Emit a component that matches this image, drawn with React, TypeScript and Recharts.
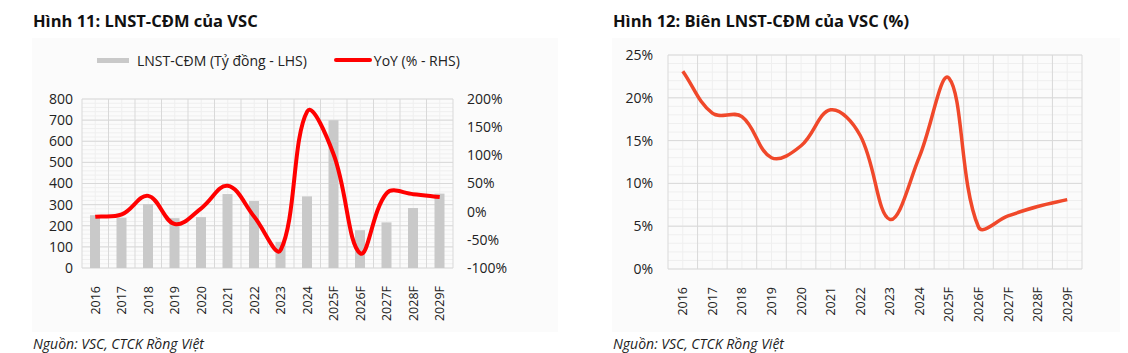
import React from 'react';
import { ComposedChart, LineChart, Bar, Line, XAxis, YAxis, CartesianGrid } from 'recharts';

const years = ['2016', '2017', '2018', '2019', '2020', '2021', '2022', '2023', '2024', '2025F', '2026F', '2027F', '2028F', '2029F'];
const profit = [250, 238, 303, 236, 241, 350, 317, 124, 339, 699, 179, 216, 284, 352];
const yoy = [-9, -5, 28, -22, 6, 46, -9, -68, 178, 101, -74, 33, 31, 26];
const margin = [23.1, 18.2, 17.8, 13.0, 14.4, 18.6, 15.6, 5.8, 13.1, 22.3, 4.9, 6.2, 7.3, 8.1];

const leftTicks = [0, 100, 200, 300, 400, 500, 600, 700, 800];
const leftMinor = Array.from({ length: 41 }, (_, i) => i * 20);
const rightTicks = [-100, -50, 0, 50, 100, 150, 200];
const marginTicks = [0, 5, 10, 15, 20, 25];
const marginMinor = Array.from({ length: 26 }, (_, i) => i);

const data1 = years.map((y, i) => ({ year: y, profit: profit[i], yoy: yoy[i] }));
const data2 = years.map((y, i) => ({ year: y, margin: margin[i] }));

const FONT = '"Open Sans", sans-serif';
const MAJOR = '#d9d9d9';
const MINOR = '#efefef';

// Distance-weighted smoothing, close to Excel's smoothed line
const smoothCurve = (context: any) => {
  let pts: number[][] = [];
  const T = 0.38;
  return {
    areaStart() {},
    areaEnd() {},
    lineStart() { pts = []; },
    lineEnd() {
      if (!pts.length) return;
      const n = pts.length;
      const dist = (a: number[], b: number[]) => Math.hypot(b[0] - a[0], b[1] - a[1]) || 1e-6;
      const outC: number[][] = [];
      const inC: number[][] = [];
      for (let i = 0; i < n; i++) {
        const p = pts[i];
        const prev = pts[i - 1] || p;
        const next = pts[i + 1] || p;
        const d0 = i > 0 ? dist(prev, p) : 0;
        const d1 = i < n - 1 ? dist(p, next) : 0;
        const tx = next[0] - prev[0];
        const ty = next[1] - prev[1];
        const s = d0 + d1 || 1;
        outC.push([p[0] + (tx * d1 / s) * T, p[1] + (ty * d1 / s) * T]);
        inC.push([p[0] - (tx * d0 / s) * T, p[1] - (ty * d0 / s) * T]);
      }
      context.moveTo(pts[0][0], pts[0][1]);
      for (let i = 0; i < n - 1; i++) {
        context.bezierCurveTo(outC[i][0], outC[i][1], inC[i + 1][0], inC[i + 1][1], pts[i + 1][0], pts[i + 1][1]);
      }
    },
    point(x: number, y: number) { pts.push([x, y]); },
  };
};

const boundaries = (props: any) => {
  const { offset } = props;
  const n = years.length;
  return Array.from({ length: n + 1 }, (_, i) => offset.left + (i * offset.width) / n);
};
const centers = (props: any) => {
  const { offset } = props;
  const n = years.length;
  return Array.from({ length: n }, (_, i) => offset.left + ((i + 0.5) * offset.width) / n);
};

const RotTick = (props: any) => {
  const { x, y, payload } = props;
  return (
    <text
      x={0}
      y={0}
      transform={`translate(${x + 4.5},${y + 10}) rotate(-90)`}
      textAnchor="end"
      fontFamily={FONT}
      fontSize={12.5}
      fill="#222"
    >
      {payload.value}
    </text>
  );
};

const tickStyle = { fontFamily: FONT, fontSize: 14, fill: '#222' };

export default function App() {
  return (
    <div style={{ position: 'absolute', left: 0, top: 0, width: 1128, height: 353, background: '#fff', fontFamily: FONT }}>
      <div style={{ position: 'absolute', left: 33, top: 10, fontSize: 16.5, fontWeight: 700, color: '#111', lineHeight: '22px', whiteSpace: 'nowrap' }}>
        Hình 11: LNST-CĐM của VSC
      </div>
      <div style={{ position: 'absolute', left: 613, top: 10, fontSize: 16.5, fontWeight: 700, color: '#111', lineHeight: '22px', whiteSpace: 'nowrap' }}>
        Hình 12: Biên LNST-CĐM của VSC (%)
      </div>

      <div style={{ position: 'absolute', left: 32, top: 38, width: 526, height: 294, background: '#fbfbfb' }} />
      <div style={{ position: 'absolute', left: 612, top: 38, width: 508, height: 294, background: '#fbfbfb' }} />

      {/* legend chart 1 */}
      <div style={{ position: 'absolute', left: 97, top: 50, height: 20, display: 'flex', alignItems: 'center', fontSize: 14, color: '#222', whiteSpace: 'nowrap' }}>
        <span style={{ display: 'inline-block', width: 32, height: 5, background: '#c9c9c9', marginRight: 8 }} />
        <span>LNST-CĐM (Tỷ đồng - LHS)</span>
        <span style={{ display: 'inline-block', width: 38, height: 4, borderRadius: 2, background: '#ff0000', marginLeft: 27, marginRight: 2 }} />
        <span>YoY (% - RHS)</span>
      </div>

      <div style={{ position: 'absolute', left: 32, top: 38 }}>
        <ComposedChart width={526} height={294} data={data1} margin={{ top: 61, right: 0, bottom: 0, left: 0 }}>
          <CartesianGrid yAxisId="l" stroke={MINOR} horizontalValues={leftMinor} verticalCoordinatesGenerator={centers} />
          <CartesianGrid yAxisId="l" stroke={MAJOR} horizontalValues={leftTicks} verticalCoordinatesGenerator={boundaries} />
          <XAxis dataKey="year" height={64} axisLine={false} tickLine={false} interval={0} tick={<RotTick />} />
          <YAxis yAxisId="l" domain={[0, 800]} ticks={leftTicks} width={50} axisLine={false} tickLine={false} tickSize={0} tickMargin={9} tick={tickStyle} interval={0} />
          <YAxis yAxisId="r" orientation="right" domain={[-100, 200]} ticks={rightTicks} width={105} axisLine={false} tickLine={false} tickSize={0} tickMargin={14} tick={{ ...tickStyle, textAnchor: 'start' }} tickFormatter={(v: number) => `${v}%`} interval={0} />
          <Bar yAxisId="l" dataKey="profit" fill="#c9c9c9" barSize={10} isAnimationActive={false} />
          <Line yAxisId="r" dataKey="yoy" type={smoothCurve as any} stroke="#ff0000" strokeWidth={4} dot={false} isAnimationActive={false} />
        </ComposedChart>
      </div>

      <div style={{ position: 'absolute', left: 612, top: 38 }}>
        <LineChart width={508} height={294} data={data2} margin={{ top: 17, right: 38, bottom: 0, left: 0 }}>
          <CartesianGrid stroke={MINOR} horizontalValues={marginMinor} verticalCoordinatesGenerator={centers} />
          <CartesianGrid stroke={MAJOR} horizontalValues={marginTicks} verticalCoordinatesGenerator={boundaries} />
          <XAxis dataKey="year" scale="band" height={63} axisLine={false} tickLine={false} interval={0} tick={<RotTick />} />
          <YAxis domain={[0, 25]} ticks={marginTicks} width={56} axisLine={false} tickLine={false} tickSize={0} tickMargin={15} tick={tickStyle} tickFormatter={(v: number) => `${v}%`} interval={0} />
          <Line dataKey="margin" type={smoothCurve as any} stroke="#f0482a" strokeWidth={3.5} dot={false} isAnimationActive={false} />
        </LineChart>
      </div>

      <div style={{ position: 'absolute', left: 33, top: 334, fontSize: 14, fontStyle: 'italic', color: '#222', whiteSpace: 'nowrap' }}>
        Nguồn: VSC, CTCK Rồng Việt
      </div>
      <div style={{ position: 'absolute', left: 613, top: 334, fontSize: 14, fontStyle: 'italic', color: '#222', whiteSpace: 'nowrap' }}>
        Nguồn: VSC, CTCK Rồng Việt
      </div>
    </div>
  );
}
